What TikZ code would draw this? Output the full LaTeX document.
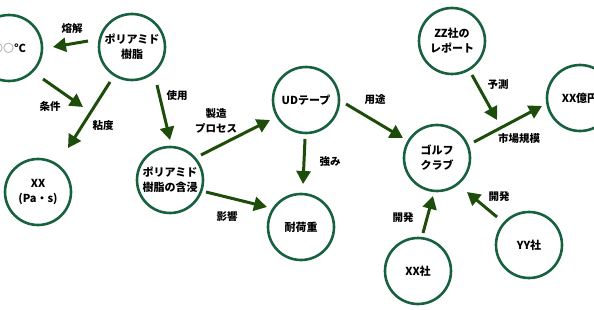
\documentclass[tikz,border=0pt]{standalone}
\usepackage{fontspec}
\setmainfont{Noto Sans CJK JP}
\usetikzlibrary{arrows.meta,calc}
\definecolor{ringgreen}{HTML}{17613F}
\definecolor{arrowgreen}{HTML}{1E4D0B}
\tikzset{
  bubble/.style={circle,draw=ringgreen,line width=2.6pt,minimum size=66pt,inner sep=0pt,
    align=center,font=\fontsize{11}{15}\selectfont\bfseries,text=black},
  arr/.style={draw=arrowgreen,line width=3pt,-{Triangle[length=13pt,width=14pt]},fill=arrowgreen},
  lbl/.style={font=\fontsize{10.5}{14.5}\selectfont\bfseries,align=center,text=black}
}
\begin{document}
\begin{tikzpicture}[x=1pt,y=-1pt]
\useasboundingbox (0,0) rectangle (594,310);
% nodes
\node[bubble] (temp) at (9,48) {{\mdseries\color{gray!70}〇〇}°C};
\node[bubble] (poly) at (132,47) {ポリアミド\\樹脂};
\node[bubble] (visc) at (38,192) {XX\\(Pa・s)};
\node[bubble] (imp) at (170,180) {ポリアミド\\樹脂の含浸};
\node[bubble] (ud) at (306,100) {UDテープ};
\node[bubble] (load) at (301,227) {耐荷重};
\node[bubble] (golf) at (437,158) {ゴルフ\\クラブ};
\node[bubble] (zz) at (452,41) {ZZ社の\\レポート};
\node[bubble] (oku) at (580,98) {XX億円};
\node[bubble] (xxsha) at (418,271) {XX社};
\node[bubble] (yy) at (529,245) {YY社};
% free ends
\coordinate (condtip) at (83,107);
\coordinate (predtip) at (497,120);
% arrows
\draw[arr] ($(poly)+(-44,-6)$) -- ($(temp)+(44,-1)$);
\draw[arr] ($(temp)+(34,31)$) -- (condtip);
\draw[arr] ($(poly)+(-22,35)$) -- ($(visc)+(30,-44)$);
\draw[arr] ($(poly)+(25,38)$) -- ($(imp)+(0,-40)$);
\draw[arr] ($(imp)+(31,-25)$) -- ($(ud)+(-36,20)$);
\draw[arr] ($(imp)+(36,12)$) -- ($(load)+(-34,-20)$);
\draw[arr] ($(ud)+(-1,39)$) -- ($(load)+(2,-43)$);
\draw[arr] ($(ud)+(40,4)$) -- ($(golf)+(-34,-20)$);
\draw[arr] ($(zz)+(20,34)$) -- (predtip);
\draw[arr] ($(golf)+(37,-16)$) -- ($(oku)+(-38,8)$);
\draw[arr] ($(xxsha)+(5,-38)$) -- ($(golf)+(-4,38)$);
\draw[arr] ($(yy)+(-32,-28)$) -- ($(golf)+(30,34)$);
% labels
\node[lbl] (l1) at (72,29) {熔解};
\node[lbl] (l2) at (50,106) {条件};
\node[lbl] (l3) at (103,126) {粘度};
\node[lbl] (l4) at (177,96) {使用};
\node[lbl] (l5) at (216,121) {製造\\プロセス};
\node[lbl] (l6) at (227,217) {影響};
\node[lbl] (l7) at (330,162) {強み};
\node[lbl] (l8) at (375,100) {用途};
\node[lbl] (l9) at (498,85) {予測};
\node[lbl] (l10) at (519,139) {市場規模};
\node[lbl] (l11) at (403,218) {開発};
\node[lbl] (l12) at (499,197) {開発};
\end{tikzpicture}
\end{document}
